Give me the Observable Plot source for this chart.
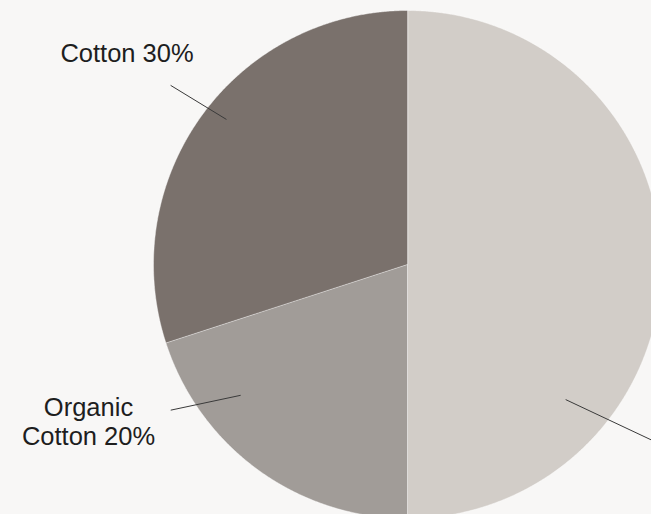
<!DOCTYPE html>
<html>
<head>
<meta charset="utf-8">
<script src="https://cdn.jsdelivr.net/npm/d3@7"></script>
<script src="https://cdn.jsdelivr.net/npm/@observablehq/plot@0.6"></script>
<style>
  html, body { margin: 0; padding: 0; background: #f8f7f6; }
  #chart svg { display: block; background: #f8f7f6; }
</style>
</head>
<body>
<div id="chart"></div>
<script>
// ---- data ----
const categories = ["Other", "Organic Cotton", "Cotton"];
const shares = [50, 20, 30];
const labels = ["", "Organic\nCotton 20%", "Cotton 30%"];
const colors = ["#d2cdc8", "#a19c98", "#7a716c"];

// ---- layout (pixel units relative to pie centre, y up) ----
const W = 651, H = 514;
const cx = 407, cy = 264, R = 254;
// leader lines in polar form: [angle deg clockwise from top, radius] inner -> outer
const leaders = [
  {inner: [130.5, 208], outer: [124.5, 340]},
  {inner: [231.9, 212], outer: [238.4, 278]},
  {inner: [308.7, 232], outer: [307.1, 297]}
];
const labelPos = [null, {x: 88 - cx, y: cy - 421}, {x: 126.5 - cx, y: cy - 53}];

const rad = d => d * Math.PI / 180;
const polar = ([a, r]) => ({x: r * Math.sin(rad(a)), y: r * Math.cos(rad(a))});

const arcs = d3.pie().sort(null).startAngle(0).endAngle(2 * Math.PI)(shares);

const slicePts = arcs.map((a, i) => {
  const pts = [{x: 0, y: 0}];
  const n = Math.max(2, Math.ceil((a.endAngle - a.startAngle) / 0.005));
  for (let k = 0; k <= n; k++) {
    const t = a.startAngle + (a.endAngle - a.startAngle) * k / n;
    pts.push({x: R * Math.sin(t), y: R * Math.cos(t)});
  }
  return pts;
});

const leaderData = leaders.map((l, i) => {
  const p1 = polar(l.inner), p2 = polar(l.outer);
  return {x1: p1.x, y1: p1.y, x2: p2.x, y2: p2.y, name: categories[i]};
});

const textData = [];
labelPos.forEach((p, i) => { if (p) textData.push({x: p.x, y: p.y, text: labels[i]}); });

const chart = Plot.plot({
  width: W, height: H,
  margin: 0,
  style: {background: "#f8f7f6"},
  x: {domain: [-cx, W - cx], axis: null},
  y: {domain: [cy - H, cy], axis: null},
  marks: [
    ...slicePts.map((pts, i) => Plot.line(pts, {
      x: "x", y: "y", curve: "linear-closed",
      fill: colors[i], stroke: "#ffffff", strokeWidth: 0.6, strokeOpacity: 0.7
    })),
    Plot.link(leaderData, {x1: "x1", y1: "y1", x2: "x2", y2: "y2", stroke: "#3a3a3a", strokeWidth: 1}),
    Plot.text(textData, {
      x: "x", y: "y", text: "text", fill: "#1e1e1e",
      fontSize: 25.5, fontFamily: "Liberation Sans, Arial, sans-serif",
      textAnchor: "middle", lineHeight: 1.1
    })
  ]
});
document.getElementById("chart").appendChild(chart);
</script>
</body>
</html>
